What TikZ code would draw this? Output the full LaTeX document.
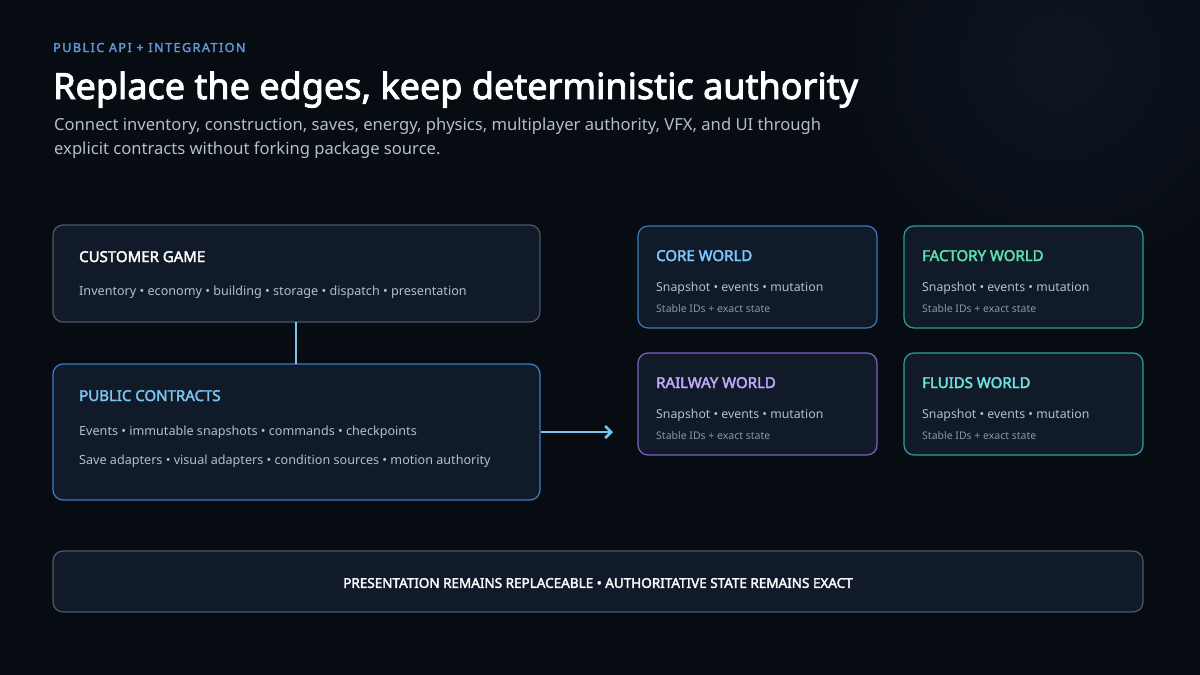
\documentclass[tikz,border=0pt]{standalone}
\usepackage{fontspec}
\setmainfont{Noto Sans}[BoldFont={Noto Sans},BoldFeatures={FakeBold=2.5}]
\usetikzlibrary{arrows.meta}
\definecolor{bg}{HTML}{070B12}
\definecolor{boxfill}{HTML}{111A28}
\definecolor{grayb}{HTML}{4A586C}
\definecolor{bluec}{HTML}{3A7CCC}
\definecolor{txt}{HTML}{B4BECC}
\definecolor{small}{HTML}{8A96A6}
\definecolor{link}{HTML}{7CC4F0}
\begin{document}
\begin{tikzpicture}[x=1pt,y=-1pt,
  box/.style={draw=#1,line width=1.2pt,fill=boxfill,rounded corners=10pt},
  ttl/.style={anchor=base west,inner sep=0pt,font=\bfseries\fontsize{15}{18}\selectfont,text=#1},
  body/.style={anchor=base west,inner sep=0pt,font=\fontsize{12.6}{16}\selectfont,text=txt},
  tiny/.style={anchor=base west,inner sep=0pt,font=\fontsize{10.5}{13}\selectfont,text=small}]
\fill[bg] (0,0) rectangle (1200,675);
\begin{scope}
\clip (0,0) rectangle (1200,675);
\shade[inner color=boxfill!70!bg, outer color=bg, draw=none] (1060,60) circle (260);
\end{scope}
\useasboundingbox (0,0) rectangle (1200,675);
\node[anchor=base west,inner sep=0pt,font=\bfseries\fontsize{12.5}{15}\selectfont,text=bluec!80!white] (kick) at (53,52) {\addfontfeatures{LetterSpace=12}PUBLIC API + INTEGRATION};
\node[anchor=base west,inner sep=0pt,font=\bfseries\fontsize{36}{42}\selectfont,text=white] (title) at (53,99) {Replace the edges, keep deterministic authority};
\node[anchor=north west,align=left,font=\fontsize{16.6}{23.5}\selectfont,text=txt,inner sep=0pt] (sub) at (54,118) {Connect inventory, construction, saves, energy, physics, multiplayer authority, VFX, and UI through\\explicit contracts without forking package source.};

\draw[box=grayb] (53,225) rectangle (540,322);
\node (cg) at (296,273) {};
\node[ttl=white] at (79,262) {CUSTOMER GAME};
\node[body] at (79,295) {Inventory • economy • building • storage • dispatch • presentation};

\draw[box=bluec] (53,364) rectangle (540,500);
\node (pc) at (296,432) {};
\node[ttl=link] at (79,401) {PUBLIC CONTRACTS};
\node[body] at (79,435) {Events • immutable snapshots • commands • checkpoints};
\node[body] at (79,464) {Save adapters • visual adapters • condition sources • motion authority};

\coordinate (c1) at (296,322); \coordinate (c2) at (296,364);
\draw[link,line width=2.5pt] (c1) -- (c2);
\coordinate (a1) at (541,432); \coordinate (a2) at (613,432);
\draw[link,line width=2.5pt,-{Straight Barb[length=6pt,width=12pt]}] (a1) -- (a2);

\foreach \x/\y/\b/\t/\n in {638/226/3A78C0/7CC8FF/CORE WORLD,904/226/2E9E84/5EE0B0/FACTORY WORLD,638/353/7F62C8/C4A8FF/RAILWAY WORLD,904/353/2AA29C/6EE6E0/FLUIDS WORLD}{
  \definecolor{bb}{HTML}{\b}\definecolor{tt}{HTML}{\t}
  \draw[box=bb] (\x,\y) rectangle ++(239,102);
  \node[ttl=tt] at (\x+18,\y+35) {\n};
  \node[body,font=\fontsize{12.3}{15}\selectfont] at (\x+18,\y+65) {Snapshot • events • mutation};
  \node[tiny] at (\x+18,\y+86) {Stable IDs + exact state};
}

\draw[box=grayb] (53,551) rectangle (1143,612);
\node[font=\bfseries\fontsize{13.5}{16}\selectfont,text=white!90!txt] (foot) at (598,583) {PRESENTATION REMAINS REPLACEABLE • AUTHORITATIVE STATE REMAINS EXACT};
\end{tikzpicture}
\end{document}
